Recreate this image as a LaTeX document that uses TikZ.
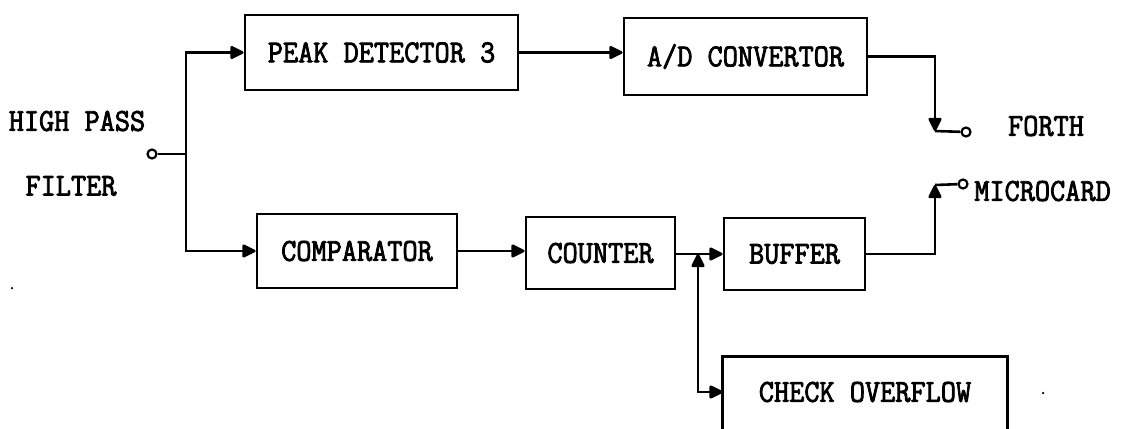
\documentclass[tikz,border=0pt]{standalone}
\usepackage{fontspec}
\setmonofont[FakeStretch=0.92,FakeBold=2.5]{Latin Modern Mono}
\usetikzlibrary{arrows.meta}
\begin{document}
\begin{tikzpicture}[x=1pt,y=-1pt,
  line width=2.6pt,
  every node/.style={font=\ttfamily\fontsize{32}{32}\selectfont, inner sep=0pt},
  block/.style={draw, line width=2.8pt, minimum width=#1},
  head/.tip={Triangle[length=15pt,width=14pt,round]},
  tip/.style={-head},
  jack/.style={circle, draw, line width=2.2pt, minimum size=9pt, fill=white},
  speck/.style={circle, fill, minimum size=2.5pt}]
\path[use as bounding box] (0,0) rectangle (1134,428);
\clip (0,0) rectangle (1134,428);

% input and labels
\node (hp) at (77,121) {HIGH PASS};
\node (filt) at (71,186) {FILTER};
\node[jack] (in) at (152,154) {};
\coordinate (split) at (186,154);

% blocks
\node[block=273pt, minimum height=75pt] (pd) at (381.5,52.5) {PEAK DETECTOR 3};
\node[block=243pt, minimum height=77pt] (ad) at (745.5,56.5) {A/D CONVERTOR};
\node[block=200pt, minimum height=74pt] (cmp) at (357,251) {COMPARATOR};
\node[block=149pt, minimum height=72pt] (cnt) at (600.5,253) {COUNTER};
\node[block=141pt, minimum height=72pt] (buf) at (794.5,254) {BUFFER};
\node[minimum width=282pt, minimum height=68pt] (chk) at (865,392) {CHECK OVERFLOW};
\draw[line width=2.8pt] ([yshift=-40pt]chk.south west) -- (chk.north west)
  -- (chk.north east) -- ([yshift=-40pt]chk.south east);

% outputs
\coordinate (fc) at (935,131);
\coordinate (mc) at (935,185);
\node[jack] (fo) at (966,132) {};
\node[jack] (mo) at (963,184) {};
\node (forth) at (1046,126) {FORTH};
\node[anchor=west] (micro) at (973,191) {MICROCARD};

% connections
\draw (in) -- (split);
\draw[tip] (split) |- (pd.west);
\draw[tip] (split) |- (cmp.west);
\draw[tip] (pd.east) -- (ad.west |- pd.east);
\draw[tip] (ad.east) -| (fc);
\draw (fc) -- (fo);
\draw[tip] (cmp.east) -- (cnt.west |- cmp.east);
\coordinate (tap) at (698,254);
\draw[tip] (cnt.east |- buf.west) -- (buf.west);
\draw[head-head] (tap) |- (chk.west);
\draw[tip] (buf.east) -| (mc);
\draw (mc) -- (mo);

% stray marks
\node[speck] (s1) at (12,288) {};
\node[speck] (s2) at (1043,393) {};
\end{tikzpicture}
\end{document}
